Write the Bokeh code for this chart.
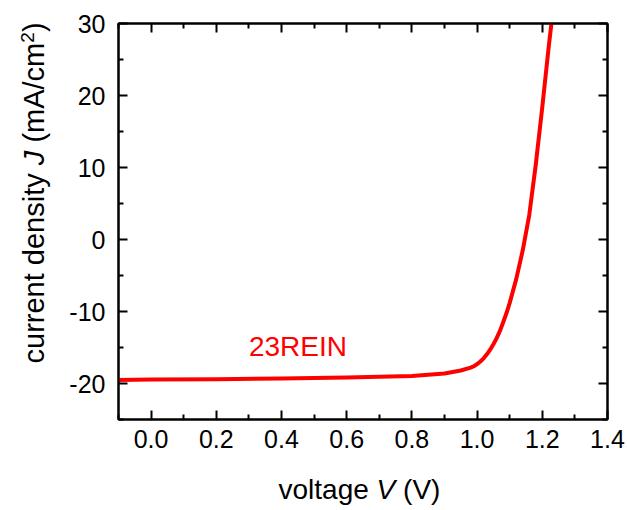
import math
from bokeh.plotting import figure
from bokeh.models import (Range1d, LinearAxis, FixedTicker, Label,
                          PrintfTickFormatter, CustomJSTickFormatter)
from bokeh.layouts import column, row
from bokeh.embed import file_html
from bokeh.resources import INLINE

# ---- data ----
voltage = [-0.1, 0.0, 0.2, 0.4, 0.6, 0.7, 0.8, 0.85, 0.9, 0.95, 0.98, 0.99, 1.0,
           1.01, 1.02, 1.03, 1.04, 1.05, 1.06, 1.07, 1.08, 1.09, 1.10, 1.12, 1.14,
           1.16, 1.18, 1.20, 1.22, 1.228]
current = [-19.5, -19.45, -19.4, -19.3, -19.15, -19.05, -18.95, -18.8, -18.6, -18.2,
           -17.8, -17.6, -17.3, -16.95, -16.5, -15.95, -15.3, -14.55, -13.7, -12.7,
           -11.5, -10.25, -8.8, -5.5, -1.5, 3.4, 10.4, 18.4, 26.9, 30.0]
sample_name = "23REIN"
x_ticks = [0.0, 0.2, 0.4, 0.6, 0.8, 1.0, 1.2, 1.4]
x_minor_ticks = [-0.1, 0.1, 0.3, 0.5, 0.7, 0.9, 1.1, 1.3]
y_ticks = [-20, -10, 0, 10, 20, 30]
y_minor_ticks = [-25, -15, -5, 5, 15, 25]
x_label_parts = ["voltage", "V", "(V)"]
y_label_parts = ["current density", "J", "(mA/cm", "2", ")"]

FONT = "Liberation Sans"
RED = "#FF0000"

W, H = 627, 510
YLAB_W = 60          # width of the y-label strip
MAIN_H = 465         # height of the main figure
XLAB_H = H - MAIN_H  # height of the x-label strip

main = figure(width=W - YLAB_W, height=MAIN_H, output_backend="svg", toolbar_location=None,
              x_range=Range1d(-0.1, 1.4), y_range=Range1d(-25, 30),
              min_border_left=118 - YLAB_W, min_border_right=20,
              min_border_top=23, min_border_bottom=MAIN_H - 419)
main.grid.visible = False
main.outline_line_color = "black"
main.outline_line_width = 2
main.background_fill_color = "white"
main.border_fill_color = "white"


def style(ax, ticks, minor, show_labels, standoff, fmt):
    ax.ticker = FixedTicker(ticks=ticks, minor_ticks=minor)
    ax.axis_line_width = 2
    ax.axis_line_color = "black"
    ax.major_tick_line_width = 2
    ax.minor_tick_line_width = 2
    ax.major_tick_in = 9
    ax.major_tick_out = 0
    ax.minor_tick_in = 5
    ax.minor_tick_out = 0
    ax.major_label_text_font = FONT
    ax.axis_label = None
    if show_labels:
        ax.formatter = PrintfTickFormatter(format=fmt)
        ax.major_label_text_color = "black"
        ax.major_label_text_font_size = "25px"
        ax.major_label_standoff = standoff
    else:
        ax.formatter = CustomJSTickFormatter(code="return ''")
        ax.major_label_text_color = None
        ax.major_label_text_font_size = "2px"
        ax.major_label_standoff = 0


style(main.xaxis[0], x_ticks, x_minor_ticks, True, 10, "%.1f")
style(main.yaxis[0], y_ticks, y_minor_ticks, True, 13, "%d")
top_ax = LinearAxis()
right_ax = LinearAxis()
style(top_ax, x_ticks, x_minor_ticks, False, 0, None)
style(right_ax, y_ticks, y_minor_ticks, False, 0, None)
main.add_layout(top_ax, "above")
main.add_layout(right_ax, "right")

main.line(voltage, current, line_color=RED, line_width=4, line_join="round")

# sample label inside the plot (data position)
main.add_layout(Label(x=0.30, y=-14.8, text=sample_name, text_color=RED,
                      text_font=FONT, text_font_size="28px", text_baseline="alphabetic"))


def strip(w, h):
    f = figure(frame_width=w, frame_height=h, output_backend="svg", toolbar_location=None,
               title=None, x_range=Range1d(0, w), y_range=Range1d(0, h),
               x_axis_type=None, y_axis_type=None, min_border=0)
    f.grid.visible = False
    f.outline_line_color = None
    f.background_fill_color = "white"
    f.border_fill_color = "white"
    return f


# y label strip: rotated text pieces (pixel positions from the strip's top-left)
ylab = strip(YLAB_W, MAIN_H)
y_specs = [(33.5, 340, "29px", "normal"),
           (33.5, 141.7, "29px", "italic"),
           (33.5, 119.1, "29px", "normal"),
           (27.0, 19.2, "19px", "normal"),
           (33.5, 8.6, "29px", "normal")]
for txt, (xx, py, size, st) in zip(y_label_parts, y_specs):
    ylab.add_layout(Label(x=xx, y=MAIN_H - py, text=txt, text_font=FONT, text_font_size=size,
                          text_font_style=st, text_baseline="alphabetic", text_align="left",
                          angle=math.pi / 2, text_color="black"))

# x label strip
xlab = strip(W, XLAB_H)
x_specs = [(278, "normal"), (376.1, "italic"), (402.6, "normal")]
for txt, (px, st) in zip(x_label_parts, x_specs):
    xlab.add_layout(Label(x=px, y=H - 489, text=txt, text_font=FONT, text_font_size="28px",
                          text_font_style=st, text_baseline="alphabetic", text_align="left",
                          text_color="black"))

layout = column(row(ylab, main, spacing=0), xlab, spacing=0)
open("out.html", "w").write(file_html(layout, INLINE))
